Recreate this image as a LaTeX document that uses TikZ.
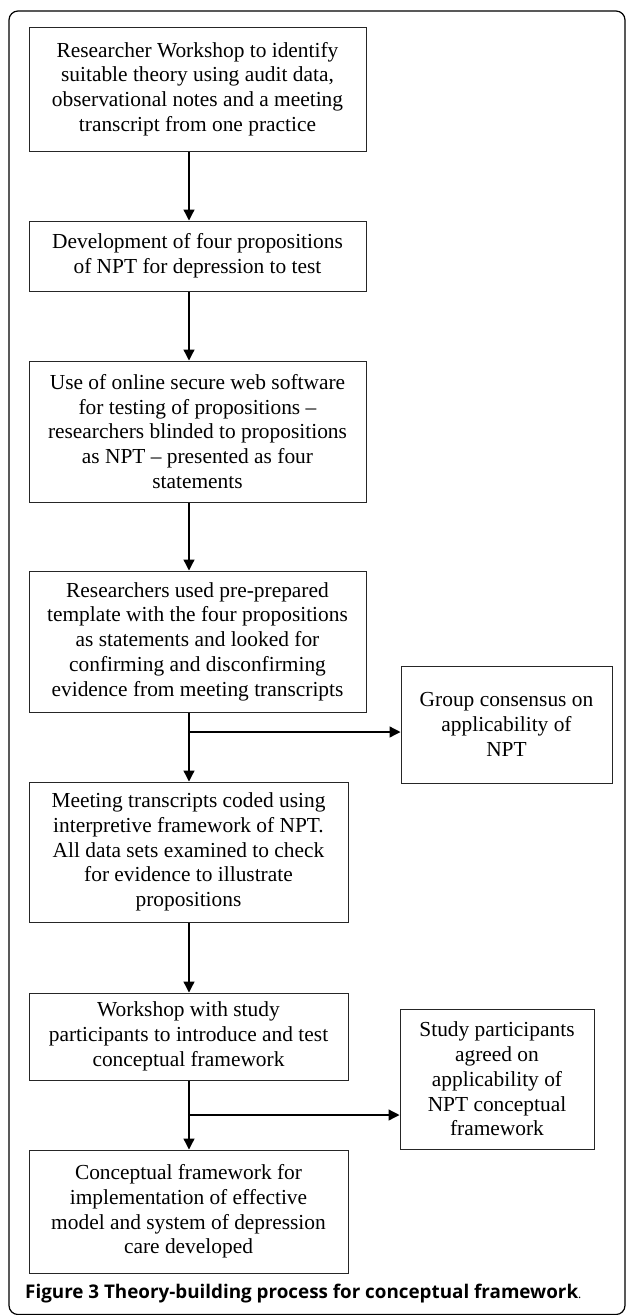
\documentclass[tikz,border=0pt]{standalone}
\usepackage{fontspec}
\setmainfont{Liberation Serif}
\newfontfamily\capfont{Open Sans}
\usetikzlibrary{arrows.meta}
\begin{document}
\begin{tikzpicture}[x=1pt,y=-1pt,
 box/.style={draw=black!85, line width=1pt, align=center, font=\fontsize{21.4}{24.7}\selectfont, inner sep=0pt},
 arr/.style={-{Triangle[width=11pt,length=11pt]}, line width=1.3pt}]
\useasboundingbox (0,0) rectangle (628,1315);
\draw[line width=1.2pt, rounded corners=9pt] (9,11) rectangle (625,1314.5);

\node[box, minimum width=337pt, minimum height=124pt] (b1) at (197.5,89)
 {Researcher Workshop to identify\\suitable theory using audit data,\\observational notes and a meeting\\transcript from one practice};
\node[box, minimum width=337pt, minimum height=70pt] (b2) at (197.5,256)
 {Development of four propositions\\of NPT for depression to test};
\node[box, minimum width=337pt, minimum height=141pt] (b3) at (197.5,431.5)
 {Use of online secure web software\\for testing of propositions --\\researchers blinded to propositions\\as NPT -- presented as four\\statements};
\node[box, minimum width=337pt, minimum height=141pt] (b4) at (197.5,641.5)
 {Researchers used pre-prepared\\template with the four propositions\\as statements and looked for\\confirming and disconfirming\\evidence from meeting transcripts};
\node[box, minimum width=319pt, minimum height=140pt] (b5) at (188.5,852)
 {Meeting transcripts coded using\\interpretive framework of NPT.\\All data sets examined to check\\for evidence to illustrate\\propositions};
\node[box, minimum width=319pt, minimum height=87pt] (b6) at (188.5,1036.5)
 {Workshop with study\\participants to introduce and test\\conceptual framework};
\node[box, minimum width=319pt, minimum height=123pt] (b7) at (188.5,1211.5)
 {Conceptual framework for\\implementation of effective\\model and system of depression\\care developed};
\node[box, minimum width=211pt, minimum height=117pt] (g) at (506.5,724.5)
 {Group consensus on\\applicability of\\NPT};
\node[box, minimum width=194pt, minimum height=140pt] (s) at (497,1079)
 {Study participants\\agreed on\\applicability of\\NPT conceptual\\framework};

\coordinate (ax) at (189,0);
\coordinate (j1) at (189,732);
\coordinate (j2) at (189,1115);

\draw[arr] (b1.south -| ax) -- (b2.north -| ax);
\draw[arr] (b2.south -| ax) -- (b3.north -| ax);
\draw[arr] (b3.south -| ax) -- (b4.north -| ax);
\draw[arr] (b4.south -| ax) -- (b5.north -| ax);
\draw[arr] (j1) -- (j1 -| g.west);
\draw[arr] (b5.south -| ax) -- (b6.north -| ax);
\draw[arr] (b6.south -| ax) -- (b7.north -| ax);
\draw[arr] (j2) -- (j2 -| s.west);

\node[anchor=base west, inner sep=0pt] (cap) at (25,1298)
 {\resizebox{553pt}{!}{\capfont\bfseries Figure 3 Theory-building process for conceptual framework}\capfont\fontsize{12}{12}\selectfont.};
\end{tikzpicture}
\end{document}
